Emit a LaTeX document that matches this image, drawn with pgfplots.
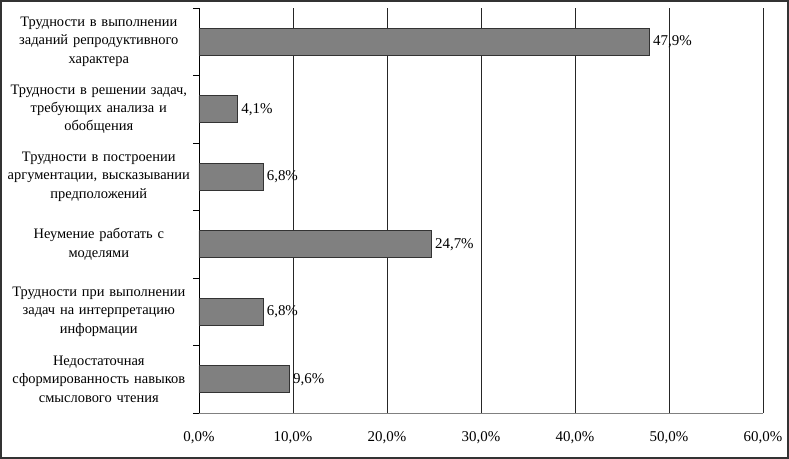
\documentclass[border=0pt]{standalone}
\usepackage{fontspec}
\setmainfont{Liberation Serif}
\usepackage{pgfplots}
\pgfplotsset{compat=1.18}

\begin{document}
\begin{tikzpicture}[x=1bp,y=1bp]
\begin{axis}[
    at={(0,0)}, anchor=south west,
    scale only axis,
    width=564bp, height=405bp,
    xbar,
    bar width=0.4,
    y dir=reverse,
    xmin=0, xmax=60,
    ymin=-0.5, ymax=5.5,
    xtick={0,10,...,60},
    ytick={0,...,5},
    yticklabels={
        {Трудности в выполнении\\заданий репродуктивного\\характера},
        {Трудности в решении задач,\\требующих анализа и\\обобщения},
        {Трудности в построении\\аргументации, высказывании\\предположений},
        {Неумение работать с\\моделями},
        {Трудности при выполнении\\задач на интерпретацию\\информации},
        {Недостаточная\\сформированность навыков\\смыслового чтения}},
    minor ytick={-0.5,0.5,...,5.5},
    major tick length=0pt,
    minor tick length=6bp,
    tick align=outside,
    ytick pos=left,
    xtick pos=bottom,
    xmajorgrids,
    grid style={black!85, line width=0.8bp},
    axis x line*=bottom,
    axis y line*=left,
    x axis line style={gray, line width=1bp, -},
    y axis line style={black, line width=0.8bp, -},
    minor tick style={black, line width=0.8bp},
    /pgf/number format/assume math mode=true,
    xticklabel={\pgfmathprintnumber[fixed,fixed zerofill,precision=1,use comma]{\tick}\%},
    xticklabel style={font=\fontsize{15}{17}\selectfont, yshift=-15bp},
    yticklabel style={font=\fontsize{14.5}{18.5}\selectfont, align=center,
        text width=188bp, inner sep=0pt, xshift=-6bp},
    point meta=explicit symbolic,
    nodes near coords,
    every node near coord/.append style={font=\fontsize{15}{17}\selectfont,
        anchor=west, inner sep=1bp, xshift=2.5bp},
]
\addplot[fill=gray, draw=black!80, line width=0.8bp] coordinates {
    (47.9,0) [47,9\%]
    (4.1,1)  [4,1\%]
    (6.8,2)  [6,8\%]
    (24.7,3) [24,7\%]
    (6.8,4)  [6,8\%]
    (9.6,5)  [9,6\%]
};
\end{axis}
\draw[black!80, line width=2bp] (-198bp,-45bp) rectangle (589bp,412bp);
\end{tikzpicture}
\end{document}
